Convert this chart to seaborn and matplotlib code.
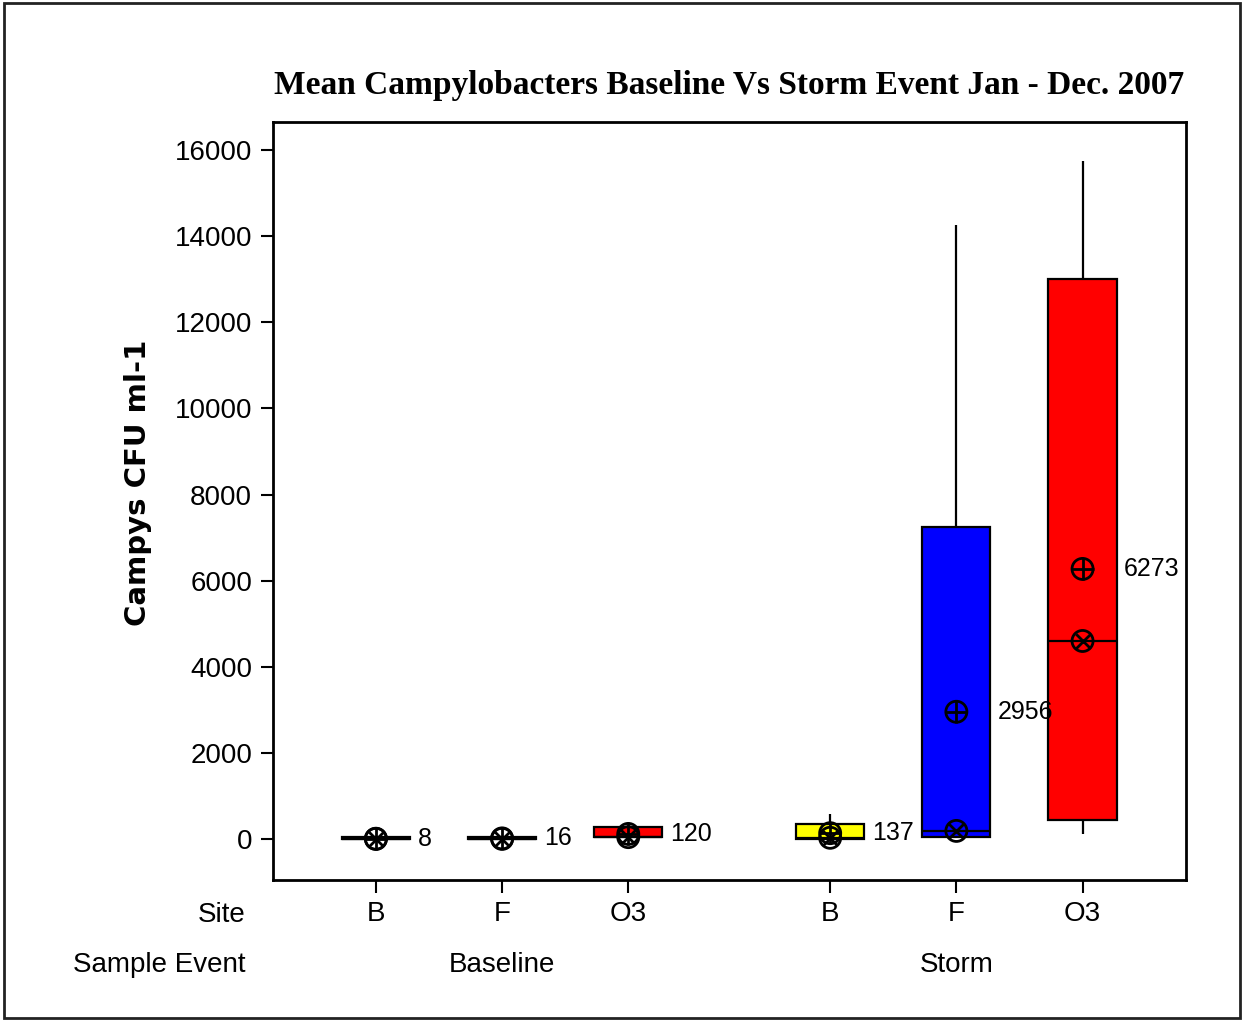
import pandas as pd
import matplotlib.pyplot as plt
import matplotlib.transforms as mtransforms
from matplotlib.patches import Rectangle
import seaborn as sns

# data (five-number summaries, mean)
events = ["Baseline", "Baseline", "Baseline", "Storm", "Storm", "Storm"]
sites = ["B", "F", "O3", "B", "F", "O3"]
positions = [0, 1, 2, 3.6, 4.6, 5.6]
whisker_low = [0, 0, 40, 10, 50, 110]
q1 = [0, 0, 40, 10, 60, 440]
medians = [5, 5, 45, 30, 190, 4600]
q3 = [50, 50, 280, 340, 7250, 13000]
whisker_high = [50, 50, 280, 580, 14250, 15750]
means = [8, 16, 120, 137, 2956, 6273]

site_palette = {"B": "#FFFF00", "F": "#0000FF", "O3": "#FF0000"}

# long table: five summary values per box, percentiles land exactly on them
rows = []
for i in range(len(sites)):
    for v in [whisker_low[i], q1[i], medians[i], q3[i], whisker_high[i]]:
        rows.append({"pos": positions[i], "site": sites[i], "value": v})
df = pd.DataFrame(rows)

sns.set_theme(style="white")
plt.rcParams["font.family"] = ["Liberation Sans", "DejaVu Sans"]
plt.rcParams["text.color"] = "black"
plt.rcParams["axes.labelcolor"] = "black"

fig = plt.figure(figsize=(12.44, 10.21), dpi=100)
ax = fig.add_axes([0.2195, 0.1381, 0.7339, 0.7424])

sns.boxplot(
    data=df, x="pos", y="value", hue="site",
    palette=site_palette, saturation=1, native_scale=True, dodge=False,
    width=0.54, whis=(0, 100), showfliers=False, showcaps=False,
    linecolor="black", linewidth=1.6, legend=False, ax=ax
)

# mean (circle plus) and median (circle x) symbols
sns.scatterplot(x=positions, y=means, marker="o", s=230,
                facecolor="none", edgecolor="black", linewidth=2,
                zorder=5, ax=ax)
sns.scatterplot(x=positions, y=means, marker="+", s=230,
                color="black", linewidth=2, zorder=5, ax=ax)
sns.scatterplot(x=positions, y=medians, marker="o", s=230,
                facecolor="none", edgecolor="black", linewidth=2,
                zorder=5, ax=ax)
sns.scatterplot(x=positions, y=medians, marker="x", s=110,
                color="black", linewidth=2, zorder=5, ax=ax)

for p, m in zip(positions, means):
    ax.text(p + 0.33, m, f"{m}", ha="left", va="center", fontsize=18)

ax.set_xlim(-0.815, 6.42)
ax.set_ylim(-950, 16650)
ax.set_yticks(range(0, 16001, 2000))
ax.set_yticklabels([str(v) for v in range(0, 16001, 2000)])
ax.set_xticks(positions)
ax.set_xticklabels(sites)
ax.tick_params(axis="both", direction="out", length=9, width=1.5,
               color="black", labelsize=20, labelcolor="black", pad=6,
               left=True, bottom=True)
ax.set_xlabel("")
ax.set_ylabel("")
for sp in ax.spines.values():
    sp.set_visible(True)
    sp.set_color("black")
    sp.set_linewidth(2)

# grouped axis labels below the plot
trans = mtransforms.blended_transform_factory(ax.transData, ax.transAxes)
ax.text(-0.03, -0.046, "Site", transform=ax.transAxes, ha="right",
        va="center", fontsize=20)
ax.text(-0.03, -0.112, "Sample Event", transform=ax.transAxes, ha="right",
        va="center", fontsize=20)
ax.text(1, -0.112, "Baseline", transform=trans, ha="center", va="center",
        fontsize=20)
ax.text(4.6, -0.112, "Storm", transform=trans, ha="center", va="center",
        fontsize=20)

ax.set_title("Mean Campylobacters Baseline Vs Storm Event Jan - Dec. 2007",
             family="Liberation Serif", fontweight="bold", fontsize=24,
             pad=20)
fig.text(138 / 1244, 1 - 483 / 1021, "Campys CFU ml-1", rotation=90,
         ha="center", va="center", family="DejaVu Sans",
         fontweight="bold", fontsize=21)

fig.patches.append(Rectangle((0.003, 0.003), 0.994, 0.994,
                             transform=fig.transFigure, fill=False,
                             edgecolor="#222222", linewidth=2))

fig.savefig("out.png", dpi=100)
